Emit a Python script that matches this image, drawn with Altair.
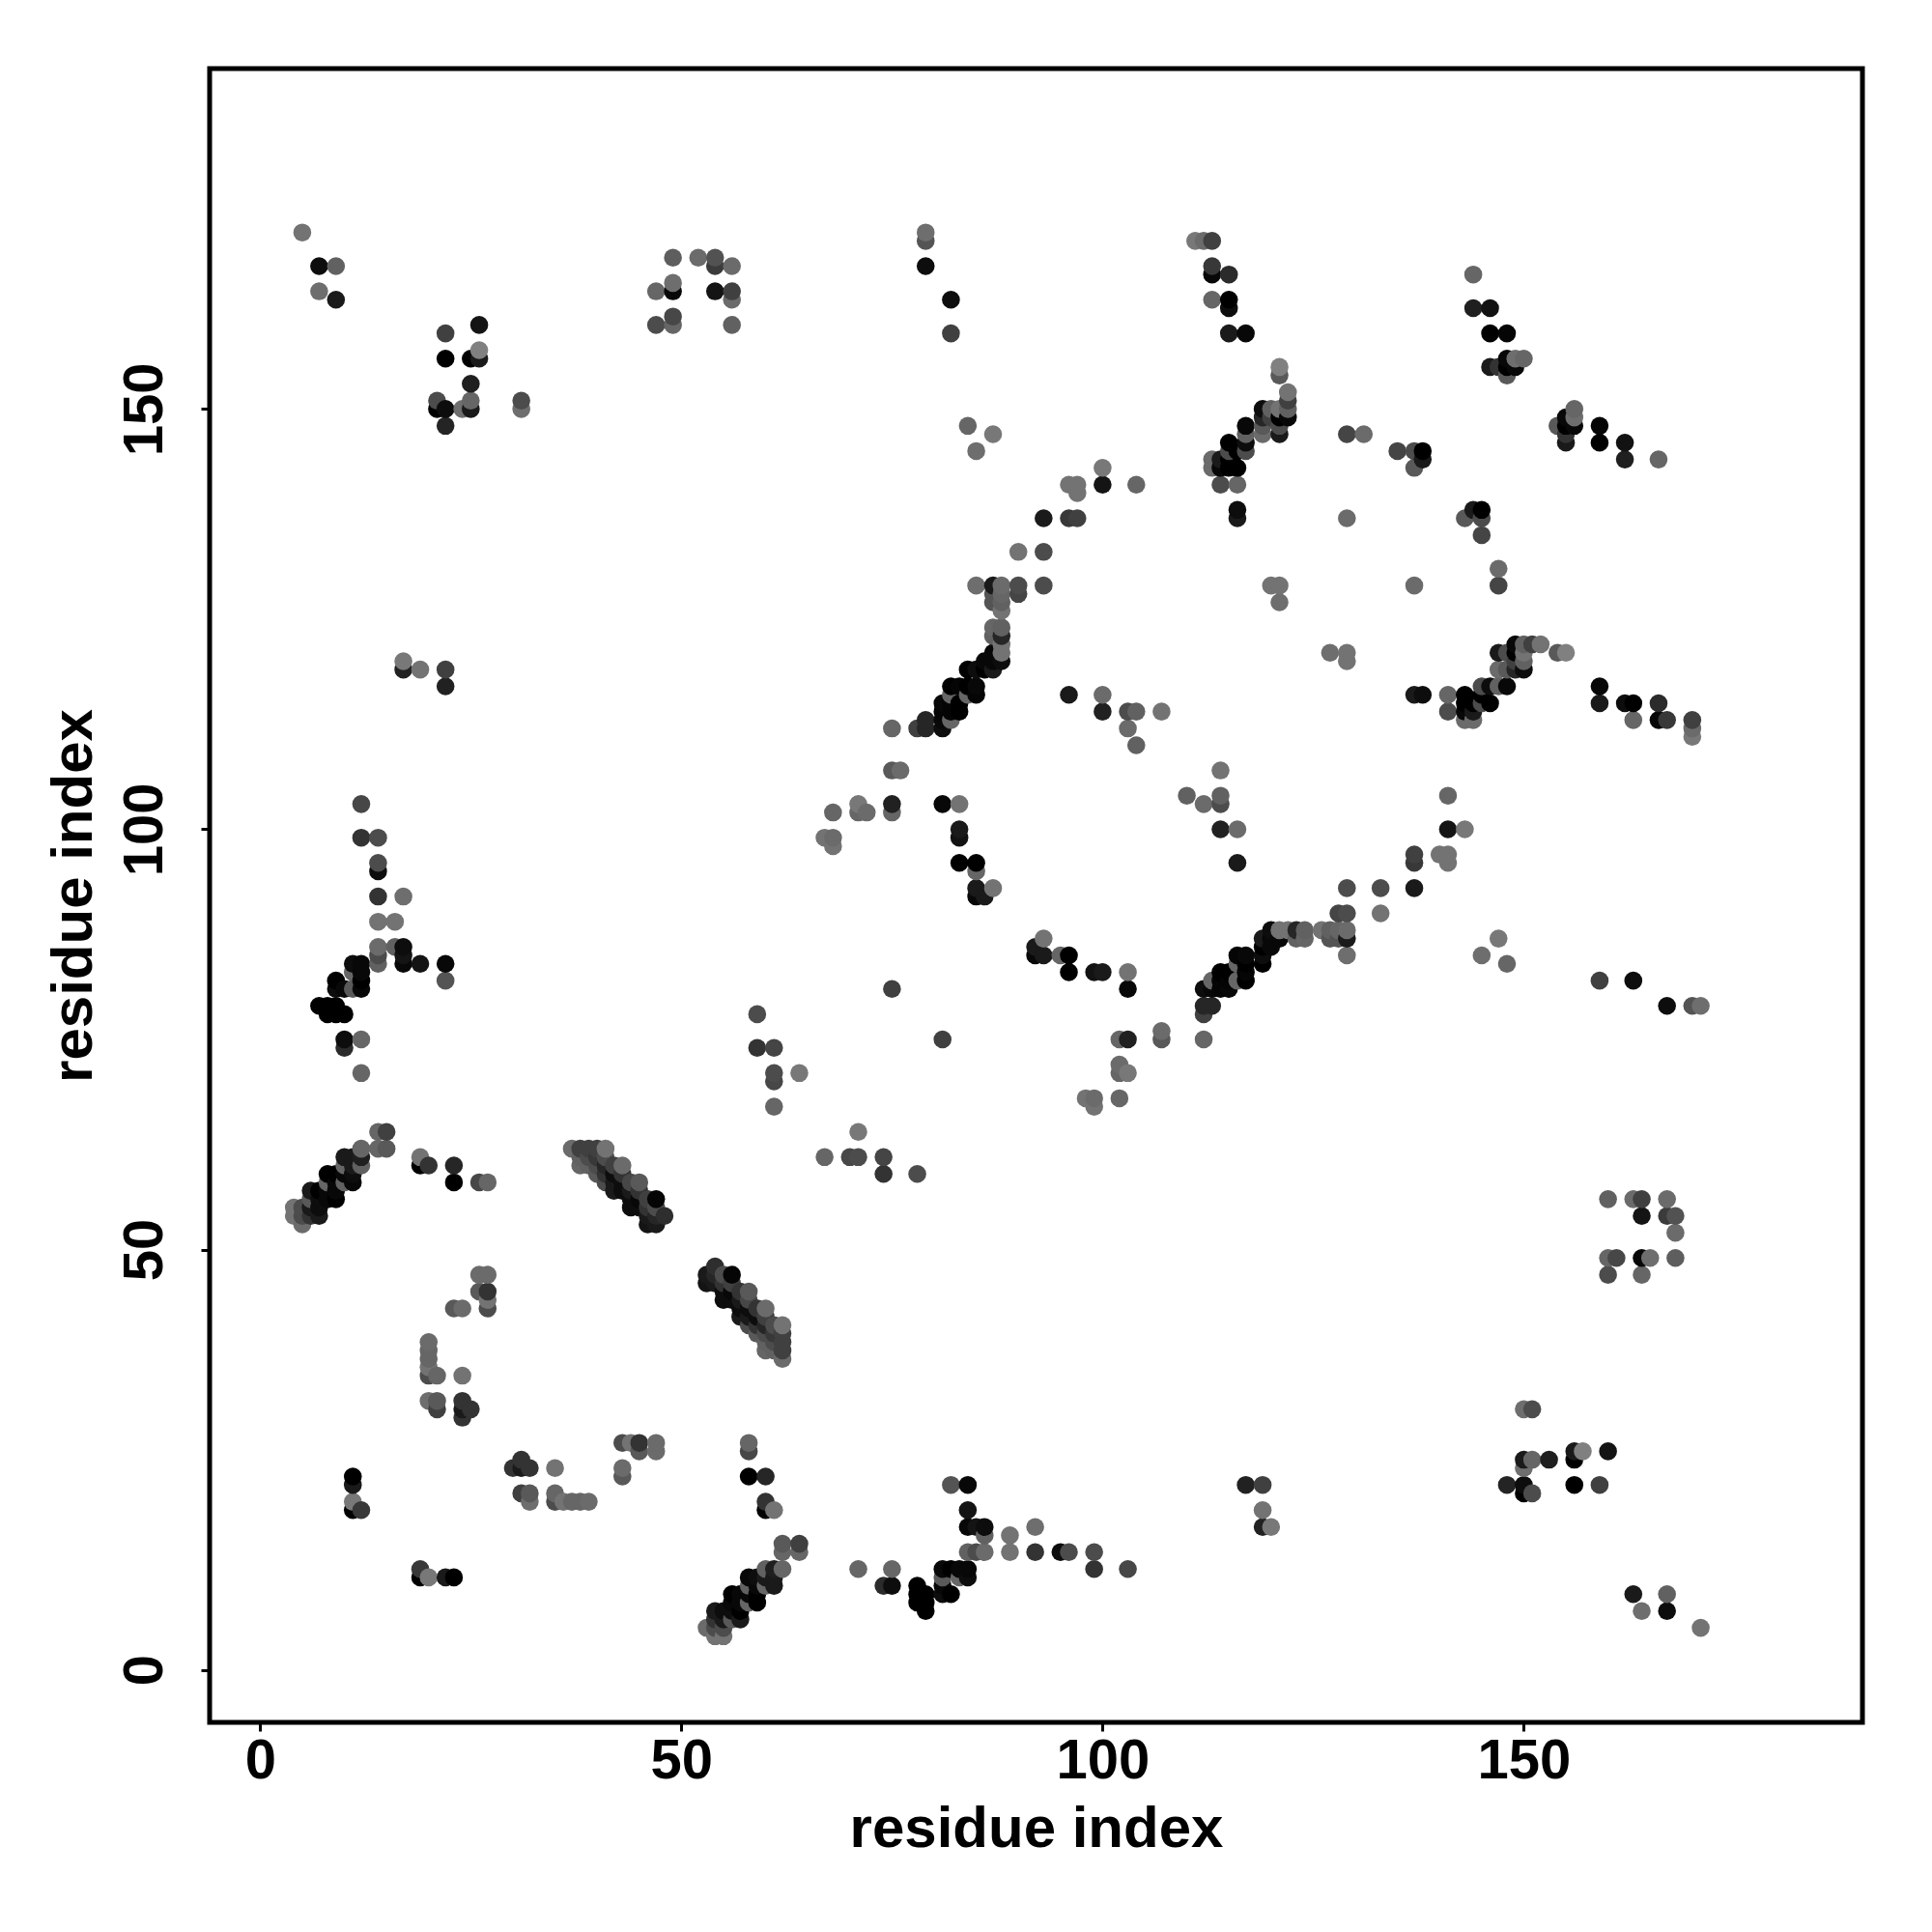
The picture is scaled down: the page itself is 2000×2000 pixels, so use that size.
import altair as alt
import pandas as pd

# Contact blocks: (residue a, residue b, grey level). The map is symmetric.
corner_a = [(5,171,.45),(7,167,.05),(9,167,.38),(7,164,.43),(9,163,.1),(22,159,.25),(26,160,.08),(22,156,0),(25,156,0),(26,156,.1),(26,157,.5),(25,153,.12),(21,151,.3),(21,150,0),(22,150,.05),(22,148,.14),(24,150,.43),(25,150,.1),(25,151,.4),(31,151,.3),(31,150,.43),(17,119,.13),(17,120,.47),(19,119,.45),(22,119,.25),(22,117,.13)]
corner_b = [(49,168,.37),(52,168,.42),(54,168,.32),(54,167,.23),(56,167,.42),(47,164,.4),(49,164,.03),(49,165,.43),(54,164,.08),(56,164,.25),(56,163,.42),(47,160,.3),(49,160,.4),(49,161,.28),(56,160,.38),(79,171,.43),(79,170,.33),(79,167,.05),(82,163,.05),(82,159,.25),(84,148,.4),(87,147,.47),(85,145,.43)]
arc_upper = [(100,143,.47),(100,141,.08),(104,141,.4),(96,141,.45),(97,141,.45),(97,140,.45),(93,137,.1),(96,137,.22),(97,137,.25),(90,133,.45),(93,133,.3),(85,129,.43),(87,129,.1),(88,129,.42),(90,129,.3),(93,129,.3),(90,128,.27),(88,128,.4),(87,128,.33),(87,127,.33),(88,127,.38),(88,126,.45),(87,124,.4),(88,124,.38),(87,123,.38),(88,123,.15),(88,122,.45),(88,121,.45),(88,120,.05),(87,121,.03),(87,120,.03),(87,119,.1),(86,120,.03),(86,119,0),(85,119,.05),(84,119,0)]
strand_d = [(85,117,.03),(85,116,.02),(84,117,0),(83,117,.02),(82,117,0),(84,116,.4),(82,116,.4),(83,115,0),(82,115,.02),(81,115,.03),(83,114,0),(82,114,.02),(81,114,.02),(82,113,.4),(81,113,.03),(81,112,.05),(79,113,.15),(79,112,.15),(78,112,.25),(75,112,.4)]
middle = [(96,116,.1),(100,116,.42),(100,114,.13),(103,114,.3),(104,114,.38),(107,114,.45),(103,112,.42),(104,110,.38),(75,107,.35),(76,107,.42),(71,103,.47),(71,102,.4),(72,102,.42),(68,102,.4),(75,103,.13),(75,102,.4),(81,103,.03),(83,103,.45),(83,100,.1),(83,99,.07),(67,99,.45),(68,99,.42),(68,98,.45),(83,96,0),(85,96,0),(85,95,.4),(85,93,.1),(85,92,.03),(86,92,.1),(87,93,.45),(75,81,.25),(59,78,.3),(59,74,.2),(61,74,.27),(61,71,.3),(61,70,.28),(64,71,.47),(61,67,.4),(75,81,.25),(67,61,.4),(70,61,.28),(71,61,.33),(74,61,.25),(74,59,.2),(78,59,.3),(71,64,.47),(81,75,.25),(102,75,.43),(103,75,.13),(107,76,.45),(107,75,.27),(112,75,.42),(102,72,.42),(102,71,.38),(103,71,.47),(98,68,.45),(99,68,.37),(99,67,.42),(102,68,.42)]
right_middle = [(110,104,.4),(112,103,.43),(114,107,.47),(114,104,.42),(114,103,.27),(114,100,.13),(116,100,.43),(116,96,.1),(112,79,.15),(113,79,.15),(112,78,.2),(112,81,.03),(113,81,.03),(115,81,.02),(114,83,.02),(115,83,.02),(116,85,.02),(117,85,.02),(117,83,.02),(117,82,.02),(114,82,.02),(116,84,.4),(113,82,.4),(116,82,.4),(119,85,.05),(119,84,.03),(119,86,.08),(120,86,.05),(119,87,.15),(120,87,.05),(121,87,.03),(120,88,.05),(121,88,.42),(122,88,.45),(123,88,.15),(124,88,.37),(123,87,.35),(124,87,.33),(126,88,.42),(127,88,.37),(128,88,.37),(129,88,.45),(127,87,.33),(128,87,.35),(129,87,.08),(129,85,.45),(128,90,.33),(129,90,.35),(133,90,.45),(129,93,.3),(133,93,.3),(137,93,.1)]
far_right = [(137,97,.25),(137,96,.2),(140,97,.47),(141,97,.47),(141,96,.47),(141,100,.08),(143,100,.45),(141,104,.43),(147,87,.47),(145,85,.42),(148,84,.38),(159,82,.22),(163,82,.03),(167,79,.03),(170,79,.35),(171,79,.43),(159,117,.03),(159,115,.1),(162,115,.05),(163,115,0),(166,115,.17),(163,113,.4),(166,113,.03),(167,113,.22),(170,113,.25),(170,112,.42),(170,111,.47),(141,116,.4),(141,114,.3),(137,116,.1),(138,116,.05)]
cap_upper = [(144,166,.4),(144,162,.12),(146,162,.07),(146,159,0),(148,159,.02),(146,155,.1),(147,155,.2),(148,156,.03),(148,155,0),(149,155,.03),(148,154,.35),(149,156,.43),(150,156,.4),(154,148,.35),(155,149,.03),(155,148,0),(156,148,.03),(156,149,.4),(156,150,.38),(155,147,.15),(155,146,.13),(159,148,0),(159,146,0),(162,146,.05),(162,144,.12),(166,144,.4),(129,147,.27),(131,147,.42),(135,145,.27),(137,145,.3),(138,145,0),(138,144,.1),(137,143,.35),(143,137,.3),(144,138,.12),(145,138,0),(145,137,.3),(145,135,.25),(129,137,.42),(147,131,.45),(147,129,.25),(137,129,.42),(120,129,.45),(121,129,.45),(121,127,.43),(127,121,.42),(129,121,.42),(129,120,.47)]
strand_e = [(121,155,.5),(121,154,.35),(122,152,.45),(122,151,.25),(122,150,.38),(122,149,.03),(121,150,.45),(120,150,.38),(119,150,.05),(119,149,.15),(120,149,.25),(121,149,0),(121,148,.3),(121,147,.1),(119,148,.35),(119,147,.42),(117,148,.03),(117,147,.38),(117,146,.05),(117,145,.3),(115,146,0),(115,145,.3),(116,145,0),(113,144,.42),(113,143,.42),(114,144,.1),(114,143,.03),(115,143,0),(116,143,0),(115,144,0),(114,141,.3),(116,141,.42),(116,138,.03),(116,137,.08),(115,159,.1),(111,170,.45),(112,170,.42),(113,170,.22),(113,167,.23),(113,166,.05),(115,166,.15),(113,163,.4),(115,163,.02),(115,162,.05),(117,159,.02)]
arm_left = [(12,103,.28),(12,99,.2),(14,99,.3),(14,96,.3),(14,95,.05),(14,92,.2),(17,92,.43),(14,89,.45),(16,89,.45),(14,86,.42),(16,86,.38),(17,86,.05),(14,85,.3),(14,84,.38),(17,85,.08),(17,84,.03),(19,84,.08),(22,84,.03),(22,82,.33),(11,84,.05),(12,84,.03),(12,83,.03),(12,82,0),(11,83,.4),(12,81,.03),(11,81,.35),(10,81,.03),(9,82,0),(9,81,.05),(7,79,0),(8,79,0),(9,79,0),(8,78,0),(9,78,0),(10,78,0),(10,75,.05),(10,74,.17),(12,75,.4),(12,71,.4)]
strand_a = [(4,54,.45),(4,55,.45),(5,53,.42),(5,54,.3),(5,55,.3),(6,54,.2),(6,55,.1),(6,56,.35),(6,57,.1),(7,54,.1),(7,55,.05),(7,56,.05),(7,57,0),(8,56,.03),(8,57,.03),(8,58,.4),(8,59,0),(9,56,0),(9,57,.03),(9,58,.03),(9,59,0),(10,58,.38),(10,59,.03),(10,60,.4),(10,61,.1),(11,58,.03),(11,59,.05),(11,60,.1),(11,61,.1),(12,60,.38),(12,61,.12),(12,62,.4),(14,64,.4),(15,64,.25),(14,62,.4),(15,62,.35),(19,61,.45),(19,60,0),(20,60,.2),(23,60,.15),(23,58,0),(26,58,.28),(27,58,.4)]
strand_b = [(37,62,.42),(38,62,.25),(38,61,.38),(39,62,.25),(39,61,.3),(39,60,.38),(40,62,.25),(40,61,.22),(40,60,.3),(40,59,.35),(41,62,.45),(41,61,.3),(41,60,.15),(41,59,.2),(41,58,.3),(42,60,.25),(42,59,.05),(42,58,.1),(42,57,.1),(43,60,.42),(43,59,.2),(43,58,.05),(43,57,.05),(44,58,.28),(44,57,.1),(44,56,.05),(44,55,.05),(45,58,.35),(45,57,.2),(45,56,.03),(45,55,.05),(46,56,.25),(46,55,.2),(46,54,.1),(46,53,.08),(47,56,.02),(47,55,.3),(47,54,.15),(47,53,.1),(48,54,.18)]
strand_c = [(53,47,.15),(53,46,.15),(54,48,.25),(54,47,.1),(54,46,.1),(55,47,.25),(55,46,.2),(55,45,.05),(55,44,.2),(56,47,.08),(56,46,.15),(56,45,.05),(56,44,.1),(57,45,.28),(57,44,.2),(57,43,.05),(57,42,.1),(58,45,.3),(58,44,.2),(58,43,.15),(58,42,.1),(59,43,.35),(59,42,.25),(59,41,.15),(59,40,.35),(60,43,.42),(60,42,.38),(60,41,.25),(60,40,.3),(60,39,.33),(60,38,.4),(61,41,.42),(61,40,.3),(61,39,.3),(61,38,.4),(62,41,.43),(62,40,.3),(62,39,.28),(62,38,.3),(62,37,.4)]
low_left = [(26,47,.42),(27,47,.42),(26,45,.35),(27,45,.2),(27,44,.45),(27,43,.3),(23,43,.35),(24,43,.42),(20,39,.42),(20,38,.4),(20,37,.4),(20,36,.45),(20,35,.3),(21,35,.4),(24,35,.45),(20,32,.43),(21,32,.35),(21,31,.25),(24,32,.2),(24,31,.1),(24,30,.2),(25,31,.2),(43,27,.3),(44,27,.45),(45,27,.2),(45,26,.3),(47,27,.4),(47,26,.37),(58,27,.42),(58,26,.2),(43,24,.42),(43,23,.33),(58,23,.03),(60,23,.15),(60,20,.2),(60,19,.03),(61,19,.45),(11,23,0),(11,22,.1),(11,20,.47),(11,19,0),(12,19,.22),(19,12,.22),(20,11,.47),(19,11,0),(22,11,.07),(23,11,0)]
low_right = [(12,71,.42),(12,75,.42),(10,74,.25),(10,75,.1),(22,82,.35),(117,22,.15),(119,22,.27),(119,19,.42),(119,17,.15),(120,17,.43),(160,56,.38),(163,56,.43),(164,56,.25),(167,56,.42),(164,54,.1),(167,54,.25),(168,54,.3),(168,52,.42),(161,49,.25),(150,31,.43),(151,31,.27),(150,25,.1),(151,25,.38),(153,25,.15),(150,24,.42),(148,22,.18),(150,22,.05),(150,21,.02),(151,21,.28),(156,26,.13),(156,25,.03),(157,26,.47),(160,26,.08),(156,22,.03),(159,22,.25),(35,24,.45),(32,24,.2),(31,24,.2),(30,24,.25),(31,25,.2)]
arc_lower = [(14,84,.42),(14,85,.33),(14,86,.4),(16,89,.45),(14,89,.43),(17,92,.45),(14,92,.22),(14,95,.03),(14,96,.25),(14,99,.3),(12,99,.2),(12,103,.27),(35,21,.4),(35,20,.3),(36,20,.42),(37,20,.38),(38,20,.38),(39,20,.38)]

blocks = [corner_a, corner_b, arc_upper, strand_d, middle, right_middle, far_right, cap_upper,
          strand_e, arm_left, strand_a, strand_b, strand_c, low_left, low_right, arc_lower]

cells = {}
for block in blocks:
    for a, b, g in block:
        cells.setdefault((a, b), g)
        cells.setdefault((b, a), g)

rows = []
for (a, b), g in sorted(cells.items()):
    level = min(255, round(g * 255))
    rows.append({"i": a, "j": b, "shade": f"#{level:02x}{level:02x}{level:02x}"})
df = pd.DataFrame(rows)

FONT = "Liberation Sans"
chart = (
    alt.Chart(df)
    .mark_circle(size=345, opacity=1, stroke=None)
    .encode(
        x=alt.X("i:Q", scale=alt.Scale(domain=[-6, 190.2], nice=False, zero=False),
                axis=alt.Axis(values=[0, 50, 100, 150], grid=False, domain=False, title="residue index",
                              tickColor="black", tickSize=9, tickWidth=3, labelFontSize=58, labelFont=FONT,
                              labelFontWeight="bold", labelColor="black", labelPadding=2, titleFont=FONT,
                              titleFontSize=60, titleFontWeight="bold", titleColor="black", titlePadding=12)),
        y=alt.Y("j:Q", scale=alt.Scale(domain=[-6.25, 190.5], nice=False, zero=False),
                axis=alt.Axis(values=[0, 50, 100, 150], grid=False, domain=False, title="residue index",
                              tickColor="black", tickSize=9, tickWidth=3, labelFontSize=58, labelFont=FONT,
                              labelFontWeight="bold", labelColor="black", labelAngle=270, labelAlign="center",
                              labelBaseline="bottom", labelPadding=29, titleFont=FONT,
                              titleFontSize=60, titleFontWeight="bold", titleColor="black", titlePadding=14)),
        color=alt.Color("shade:N", scale=None),
    )
    .properties(width=1711, height=1712, padding={"left": 209, "top": 63, "right": 40, "bottom": 150},
                autosize=alt.AutoSizeParams(type="none"), background="white")
    .configure_view(stroke="black", strokeWidth=5)
)
chart.save("out.html", embed_options={"renderer": "svg", "actions": False})
